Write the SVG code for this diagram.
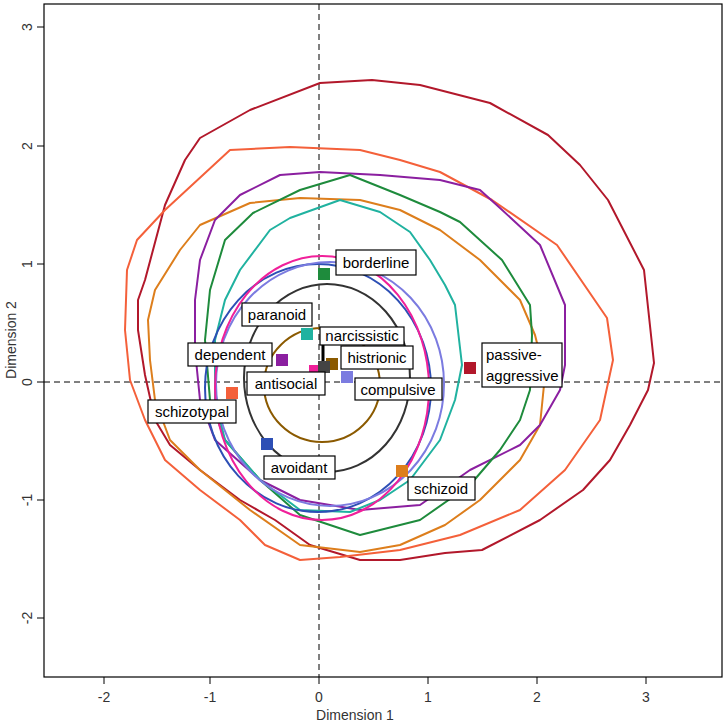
<svg xmlns="http://www.w3.org/2000/svg" width="726" height="728" viewBox="0 0 726 728">
<style>
.c{fill:none;stroke-width:2;stroke-linejoin:round}
.t{font-family:"Liberation Sans",Arial,sans-serif;font-size:15px;fill:#000}
.a{font-family:"Liberation Sans",Arial,sans-serif;font-size:14px;fill:#333}
.b{fill:#fff;stroke:#000;stroke-width:1.2}
</style>
<rect width="726" height="728" fill="#fff"/>
<g id="frame" stroke="#000" fill="none">
<rect x="44" y="4" width="678" height="673" stroke-width="1.2"/>
<path d="M104 677v7M210 677v7M319 677v7M428 677v7M537 677v7M646 677v7M44 27h-7M44 146h-7M44 264h-7M44 382h-7M44 500h-7M44 618h-7"/>
<path d="M44 382H722M319 4V677" stroke-dasharray="6 4"/>
</g>
<g id="ticks" class="a">
<text x="104" y="702" text-anchor="middle">-2</text><text x="210" y="702" text-anchor="middle">-1</text><text x="319" y="702" text-anchor="middle">0</text><text x="428" y="702" text-anchor="middle">1</text><text x="537" y="702" text-anchor="middle">2</text><text x="646" y="702" text-anchor="middle">3</text>
<text transform="translate(32 27) rotate(-90)" text-anchor="middle">3</text><text transform="translate(32 146) rotate(-90)" text-anchor="middle">2</text><text transform="translate(32 264) rotate(-90)" text-anchor="middle">1</text><text transform="translate(32 382) rotate(-90)" text-anchor="middle">0</text><text transform="translate(32 500) rotate(-90)" text-anchor="middle">-1</text><text transform="translate(32 618) rotate(-90)" text-anchor="middle">-2</text>
<text x="355" y="720" text-anchor="middle">Dimension 1</text>
<text transform="translate(16 340) rotate(-90)" text-anchor="middle">Dimension 2</text>
</g>
<g id="contours">
<polygon class="c" stroke="#B2182B" points="320,83 372,80 420,85 490,103 548,135 580,165 608,200 644,270 654,363 648,390 630,425 610,460 583,490 540,520 482,550 445,553 400,560 360,560 310,545 275,520 240,500 200,470 170,445 155,420 145,375 138,330 138,300 145,280 165,205 185,160 200,138 250,110"/>
<polygon class="c" stroke="#F4603A" points="230,150 290,147 360,150 400,160 440,172 492,200 557,245 607,318 613,360 600,420 565,470 520,510 460,535 400,550 340,557 300,560 265,545 240,520 200,490 165,460 145,420 130,380 125,330 127,270 137,240 165,210"/>
<polygon class="c" stroke="#DD7E1C" points="300,198 360,200 400,210 440,230 480,260 520,300 535,335 545,375 540,425 520,460 480,500 445,525 400,545 360,552 300,545 250,510 200,470 170,440 155,400 150,360 148,320 155,290 180,250 200,225 250,203"/>
<polygon class="c" stroke="#8B1FA0" points="280,175 320,172 380,175 440,180 480,190 500,208 540,245 565,305 565,365 560,390 540,425 520,445 470,470 420,505 360,510 300,500 260,480 215,440 200,400 195,350 195,300 200,260 215,220 240,195"/>
<polygon class="c" stroke="#1E8B3C" points="253,213 300,190 350,175 400,195 440,212 460,222 502,260 530,305 532,335 530,390 520,420 500,450 470,485 420,520 360,535 300,515 260,480 225,440 210,400 205,340 210,290 225,240"/>
<polygon class="c" stroke="#20B2A0" points="270,230 290,218 340,200 380,212 410,232 430,260 445,285 455,305 462,365 455,400 440,440 410,480 380,500 350,512 300,510 260,480 225,440 215,400 215,340 225,300 240,270"/>
<ellipse class="c" stroke="#2D4FB5" cx="318" cy="388" rx="113" ry="124"/>
<ellipse class="c" stroke="#7B7BE0" cx="330" cy="384" rx="114" ry="122"/>
<ellipse class="c" stroke="#F0209A" cx="322" cy="388" rx="107" ry="132"/>
<ellipse class="c" stroke="#333" cx="327" cy="378" rx="83" ry="94"/>
<ellipse class="c" stroke="#8B5A00" cx="322" cy="385" rx="58" ry="57"/>
<path d="M323 345V365" stroke="#000" stroke-width="3"/>
</g>
<g id="points">
<rect x="318" y="268" width="12" height="12" fill="#1E8B3C"/>
<rect x="301" y="328" width="12" height="12" fill="#20B2A0"/>
<rect x="276" y="354" width="12" height="12" fill="#8B1FA0"/>
<rect x="309" y="365" width="12" height="12" fill="#F0209A"/>
<rect x="326" y="358" width="12" height="12" fill="#8B5A00"/>
<rect x="318" y="361" width="12" height="12" fill="#444"/>
<rect x="341" y="371" width="12" height="12" fill="#7B7BE0"/>
<rect x="464" y="362" width="12" height="12" fill="#B2182B"/>
<rect x="226" y="387" width="12" height="12" fill="#F4603A"/>
<rect x="261" y="438" width="12" height="12" fill="#2D4FB5"/>
<rect x="396" y="465" width="12" height="12" fill="#DD7E1C"/>
</g>
<g id="labels">
<g id="borderline"><rect class="b" x="336" y="250" width="80" height="25"/><text class="t" x="376" y="268" text-anchor="middle">borderline</text></g>
<g id="paranoid"><rect class="b" x="242" y="303" width="70" height="23"/><text class="t" x="277" y="320" text-anchor="middle">paranoid</text></g>
<g id="narcissistic"><rect class="b" x="320" y="327" width="84" height="18"/><text class="t" x="362" y="341" text-anchor="middle">narcissistic</text></g>
<g id="histrionic"><rect class="b" x="341" y="346" width="72" height="23"/><text class="t" x="377" y="363" text-anchor="middle">histrionic</text></g>
<g id="dependent"><rect class="b" x="188" y="343" width="84" height="23"/><text class="t" x="230" y="360" text-anchor="middle">dependent</text></g>
<g id="antisocial"><rect class="b" x="247" y="372" width="78" height="23"/><text class="t" x="286" y="389" text-anchor="middle">antisocial</text></g>
<g id="compulsive"><rect class="b" x="355" y="378" width="87" height="22"/><text class="t" x="398" y="395" text-anchor="middle">compulsive</text></g>
<g id="passive-aggressive"><rect class="b" x="482" y="343" width="80" height="44"/><text class="t" x="486" y="360">passive-</text><text class="t" x="486" y="381">aggressive</text></g>
<g id="schizotypal"><rect class="b" x="148" y="400" width="88" height="23"/><text class="t" x="192" y="417" text-anchor="middle">schizotypal</text></g>
<g id="avoidant"><rect class="b" x="264" y="456" width="71" height="23"/><text class="t" x="299" y="473" text-anchor="middle">avoidant</text></g>
<g id="schizoid"><rect class="b" x="408" y="477" width="67" height="23"/><text class="t" x="441" y="494" text-anchor="middle">schizoid</text></g>
</g>
</svg>
